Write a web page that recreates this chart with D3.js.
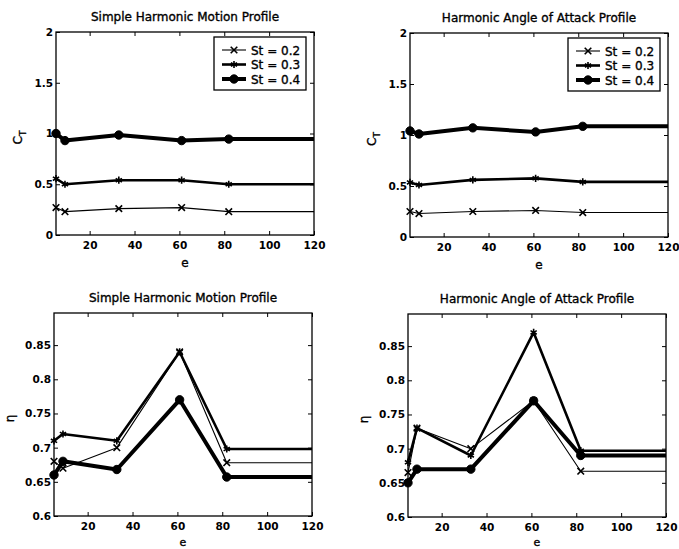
<!DOCTYPE html>
<html>
<head>
<meta charset="utf-8">
<script src="https://cdn.jsdelivr.net/npm/d3@7"></script>
<style>
  html, body { margin: 0; padding: 0; background: #fff; }
  svg { display: block; }
  text { font-family: "DejaVu Sans", "Liberation Sans", sans-serif; fill: #000; }
</style>
</head>
<body>
<svg id="chart" width="679" height="549"></svg>
<script>
// Measured points (excursion e) and the plotted extent of the e axis
const eVals = [5, 9, 33, 61, 82];
const eMax = 120;
const strouhal = ["St = 0.2", "St = 0.3", "St = 0.4"];

// Thrust coefficient, simple harmonic motion profile
const ctSHM02 = [0.27, 0.23, 0.26, 0.27, 0.23];
const ctSHM03 = [0.555, 0.50, 0.54, 0.54, 0.50];
const ctSHM04 = [1.00, 0.93, 0.985, 0.93, 0.945];
// Thrust coefficient, harmonic angle of attack profile
const ctHAA02 = [0.25, 0.23, 0.25, 0.26, 0.24];
const ctHAA03 = [0.535, 0.51, 0.56, 0.575, 0.54];
const ctHAA04 = [1.04, 1.01, 1.07, 1.03, 1.085];
// Efficiency, simple harmonic motion profile
const etaSHM02 = [0.68, 0.67, 0.70, 0.84, 0.678];
const etaSHM03 = [0.71, 0.72, 0.71, 0.84, 0.698];
const etaSHM04 = [0.66, 0.68, 0.668, 0.77, 0.657];
// Efficiency, harmonic angle of attack profile
const etaHAA02 = [0.665, 0.73, 0.70, 0.77, 0.667];
const etaHAA03 = [0.68, 0.73, 0.69, 0.87, 0.697];
const etaHAA04 = [0.65, 0.67, 0.67, 0.77, 0.69];

const xTicks = [20, 40, 60, 80, 100, 120];
const ctTicks = [0, 0.5, 1, 1.5, 2];
const etaTicks = [0.6, 0.65, 0.7, 0.75, 0.8, 0.85];

// Line/marker style for each Strouhal number
const styles = [
  { width: 1.1, symbol: d3.symbolTimes, size: 30, fill: false },
  { width: 2.6, symbol: d3.symbolAsterisk, size: 36, fill: false },
  { width: 4.0, symbol: d3.symbolCircle, size: 55, fill: true }
];

const panels = [
  { title: "Simple Harmonic Motion Profile", ylab: "ct", box: [56, 32, 314, 235],
    domain: [0, 2], ticks: ctTicks, series: [ctSHM02, ctSHM03, ctSHM04], legend: true, xlabY: 267, xlabSize: 12 },
  { title: "Harmonic Angle of Attack Profile", ylab: "ct", box: [410, 33, 668, 237],
    domain: [0, 2], ticks: ctTicks, series: [ctHAA02, ctHAA03, ctHAA04], legend: true, xlabY: 269, xlabSize: 12 },
  { title: "Simple Harmonic Motion Profile", ylab: "eta", box: [54, 313, 312, 516],
    domain: [0.6, 0.897], ticks: etaTicks, series: [etaSHM02, etaSHM03, etaSHM04], legend: false, xlabY: 546, xlabSize: 11 },
  { title: "Harmonic Angle of Attack Profile", ylab: "eta", box: [408, 314, 666, 517],
    domain: [0.6, 0.897], ticks: etaTicks, series: [etaHAA02, etaHAA03, etaHAA04], legend: false, xlabY: 546, xlabSize: 11 }
];

const svg = d3.select("#chart");
const fmt = v => String(+v.toFixed(2));

// Slightly heavy lettering, like a printed figure
function ink(sel, w) {
  sel.attr("stroke", "#000").attr("stroke-width", w).attr("paint-order", "stroke");
}

panels.forEach(p => {
  const [x0, y0, x1, y1] = p.box;
  const x = d3.scaleLinear().domain([eVals[0], eMax]).range([x0, x1]);
  const y = d3.scaleLinear().domain(p.domain).range([y1, y0]);
  const g = svg.append("g");

  // Ticks pointing inward on all four sides
  const tl = 4;
  const axB = g.append("g").attr("transform", `translate(0,${y1})`)
    .call(d3.axisBottom(x).tickValues(xTicks).tickSizeInner(-tl).tickSizeOuter(0).tickPadding(7).tickFormat(d3.format("d")));
  const axT = g.append("g").attr("transform", `translate(0,${y0})`)
    .call(d3.axisTop(x).tickValues(xTicks).tickSizeInner(-tl).tickSizeOuter(0).tickFormat(""));
  const axL = g.append("g").attr("transform", `translate(${x0},0)`)
    .call(d3.axisLeft(y).tickValues(p.ticks).tickSizeInner(-tl).tickSizeOuter(0).tickPadding(3).tickFormat(fmt));
  const axR = g.append("g").attr("transform", `translate(${x1},0)`)
    .call(d3.axisRight(y).tickValues(p.ticks).tickSizeInner(-tl).tickSizeOuter(0).tickFormat(""));
  [axB, axT, axL, axR].forEach(a => {
    a.select(".domain").remove();
    a.selectAll("line").attr("stroke", "#000").attr("stroke-width", 1);
    a.selectAll("text").attr("font-size", 10.5).attr("font-family", "DejaVu Sans")
      .attr("font-weight", "bold").attr("fill", "#000");
  });

  // Plot frame
  g.append("rect").attr("x", x0).attr("y", y0).attr("width", x1 - x0).attr("height", y1 - y0)
    .attr("fill", "none").attr("stroke", "#000").attr("stroke-width", 1.3);

  // Series: measured points, held constant out to the end of the axis
  const line = d3.line().x(d => x(d[0])).y(d => y(d[1]));
  p.series.forEach((vals, k) => {
    const st = styles[k];
    const pts = eVals.map((e, i) => [e, vals[i]]);
    pts.push([eMax, vals[vals.length - 1]]);
    g.append("path").datum(pts).attr("d", line)
      .attr("fill", "none").attr("stroke", "#000").attr("stroke-width", st.width)
      .attr("stroke-linejoin", "round");
    const sym = d3.symbol().type(st.symbol).size(st.size);
    g.selectAll(null).data(eVals.map((e, i) => [e, vals[i]])).join("path")
      .attr("transform", d => `translate(${x(d[0])},${y(d[1])})`)
      .attr("d", sym())
      .attr("fill", st.fill ? "#000" : "none")
      .attr("stroke", "#000").attr("stroke-width", st.fill ? 1 : 1.6);
  });

  // Title
  g.append("text").attr("x", (x0 + x1) / 2).attr("y", y0 - 11)
    .attr("text-anchor", "middle").attr("font-size", 12).call(ink, 0.35).text(p.title);

  // x label
  g.append("text").attr("x", (x0 + x1) / 2).attr("y", p.xlabY)
    .attr("text-anchor", "middle").attr("font-size", p.xlabSize).call(ink, 0.35).text("e");

  // y label
  const yl = g.append("text")
    .attr("transform", `translate(${x0 - (p.ylab === "ct" ? 34 : 40)},${(y0 + y1) / 2 + 4}) rotate(-90)`)
    .attr("text-anchor", "middle").attr("font-size", 12).call(ink, 0.35);
  if (p.ylab === "ct") {
    yl.append("tspan").text("C");
    yl.append("tspan").attr("font-size", 9).attr("dy", 4).text("T");
  } else {
    yl.text("η");
  }

  // Legend
  if (p.legend) {
    const lw = 92, lh = 53;
    const lx = x1 - lw - 8, ly = y0 + 5;
    const lg = g.append("g");
    lg.append("rect").attr("x", lx).attr("y", ly).attr("width", lw).attr("height", lh)
      .attr("fill", "#fff").attr("stroke", "#000").attr("stroke-width", 1.3);
    strouhal.forEach((name, k) => {
      const st = styles[k];
      const cy = ly + 13 + k * 14.5;
      lg.append("line").attr("x1", lx + 8).attr("x2", lx + 32).attr("y1", cy).attr("y2", cy)
        .attr("stroke", "#000").attr("stroke-width", st.width);
      lg.append("path").attr("transform", `translate(${lx + 20},${cy})`)
        .attr("d", d3.symbol().type(st.symbol).size(st.size)())
        .attr("fill", st.fill ? "#000" : "none")
        .attr("stroke", "#000").attr("stroke-width", st.fill ? 1 : 1.6);
      lg.append("text").attr("x", lx + 37).attr("y", cy + 4.5).attr("font-size", 12)
        .call(ink, 0.35).text(name);
    });
  }
});
</script>
</body>
</html>
